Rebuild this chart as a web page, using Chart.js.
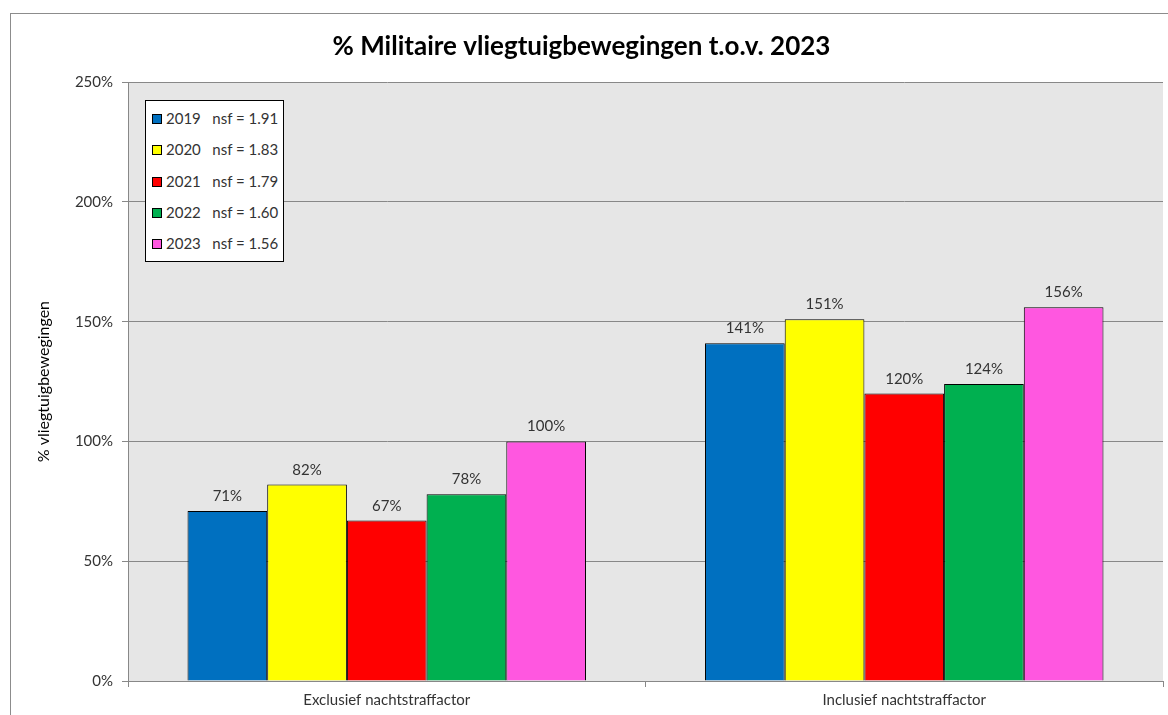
<!DOCTYPE html>
<html>
<head>
<meta charset="utf-8">
<script src="https://cdn.jsdelivr.net/npm/chart.js@4.4.0/dist/chart.umd.min.js"></script>
<style>
    body { margin: 0; background: #fff; font-family: Lato, "Open Sans", sans-serif; }
    #wrap { position: relative; width: 1168px; height: 715px; overflow: hidden; }
    #frame { position: absolute; left: 10px; top: 13px; width: 1200px; height: 800px; border: 1px solid #8c8c8c; pointer-events: none; }
    #legend { position: absolute; left: 145px; top: 100px; width: 139px; height: 162px; background: #fff; border: 1.5px solid #000; box-sizing: border-box; }
    .item { position: absolute; left: 6px; font-size: 15px; color: #333; white-space: pre; line-height: 18px; }
    .sw { display: inline-block; width: 8px; height: 8px; border: 1px solid #000; margin-right: 4px; vertical-align: 0px; }
</style>
</head>
<body>
<div id="wrap">
    <canvas id="chart" width="1168" height="715"></canvas>
    <div id="frame"></div>
    <div id="legend"></div>
</div>
<script>
const categories = ['Exclusief nachtstraffactor', 'Inclusief nachtstraffactor'];
const years = ['2019', '2020', '2021', '2022', '2023'];
const nsf = ['1.91', '1.83', '1.79', '1.60', '1.56'];
const values2019 = [71, 141];
const values2020 = [82, 151];
const values2021 = [67, 120];
const values2022 = [78, 124];
const values2023 = [100, 156];
const yTicks = [0, 50, 100, 150, 200, 250];

const colors = ['#0070c0', '#ffff00', '#ff0000', '#00b050', '#ff57e0'];
const allValues = [values2019, values2020, values2021, values2022, values2023];
const FONT = 'Lato, "Open Sans", sans-serif';

const datasets = years.map((y, i) => ({
    label: y + '   nsf = ' + nsf[i],
    data: allValues[i],
    backgroundColor: colors[i],
    borderColor: '#000',
    borderWidth: 1,
    categoryPercentage: 0.77,
    barPercentage: 1
}));

// legend box inside the plot
const legend = document.getElementById('legend');
years.forEach((y, i) => {
    const item = document.createElement('div');
    item.className = 'item';
    item.style.top = (8 + i * 31.3) + 'px';
    item.innerHTML = `<span class="sw" style="background:${colors[i]}"></span>${y}   nsf = ${nsf[i]}`;
    legend.appendChild(item);
});

const plotBg = {
    id: 'plotBg',
    beforeDraw(chart) {
        const { ctx, chartArea: a } = chart;
        ctx.save();
        ctx.fillStyle = '#e6e6e6';
        ctx.fillRect(a.left, a.top, a.right - a.left, a.bottom - a.top);
        ctx.restore();
    }
};

const barLabels = {
    id: 'barLabels',
    afterDatasetsDraw(chart) {
        const ctx = chart.ctx;
        ctx.save();
        ctx.font = '15px ' + FONT;
        ctx.fillStyle = '#333';
        ctx.textAlign = 'center';
        ctx.textBaseline = 'alphabetic';
        chart.data.datasets.forEach((ds, i) => {
            chart.getDatasetMeta(i).data.forEach((bar, j) => {
                ctx.fillText(ds.data[j] + '%', bar.x, bar.y - 10);
            });
        });
        ctx.restore();
    }
};

new Chart(document.getElementById('chart').getContext('2d'), {
    type: 'bar',
    data: { labels: categories, datasets: datasets },
    options: {
        responsive: false,
        animation: false,
        layout: { padding: { left: 0, right: 5, top: 0, bottom: 0 } },
        plugins: {
            legend: { display: false },
            tooltip: { enabled: false },
            title: {
                display: true,
                text: '% Militaire vliegtuigbewegingen t.o.v. 2023',
                font: { family: FONT, size: 26, weight: 'bold' },
                color: '#000',
                padding: { top: 31, bottom: 20 }
            }
        },
        scales: {
            x: {
                grid: { drawOnChartArea: false, drawTicks: true, tickLength: 6, color: '#888' },
                border: { color: '#888' },
                ticks: { color: '#333', padding: 4, font: { family: FONT, size: 15 } },
                afterFit(scale) { scale.height = 34; }
            },
            y: {
                min: 0,
                max: 250,
                afterBuildTicks(scale) { scale.ticks = yTicks.map(v => ({ value: v })); },
                grid: { color: '#888', tickLength: 6 },
                border: { color: '#888' },
                ticks: {
                    color: '#333',
                    padding: 9,
                    font: { family: FONT, size: 15 },
                    callback: v => v + '%'
                },
                title: {
                    display: true,
                    text: '% vliegtuigbewegingen',
                    color: '#000',
                    font: { family: FONT, size: 16 },
                    padding: { top: 34 }
                },
                afterFit(scale) { scale.width = 128; }
            }
        }
    },
    plugins: [plotBg, barLabels]
});
</script>
</body>
</html>
